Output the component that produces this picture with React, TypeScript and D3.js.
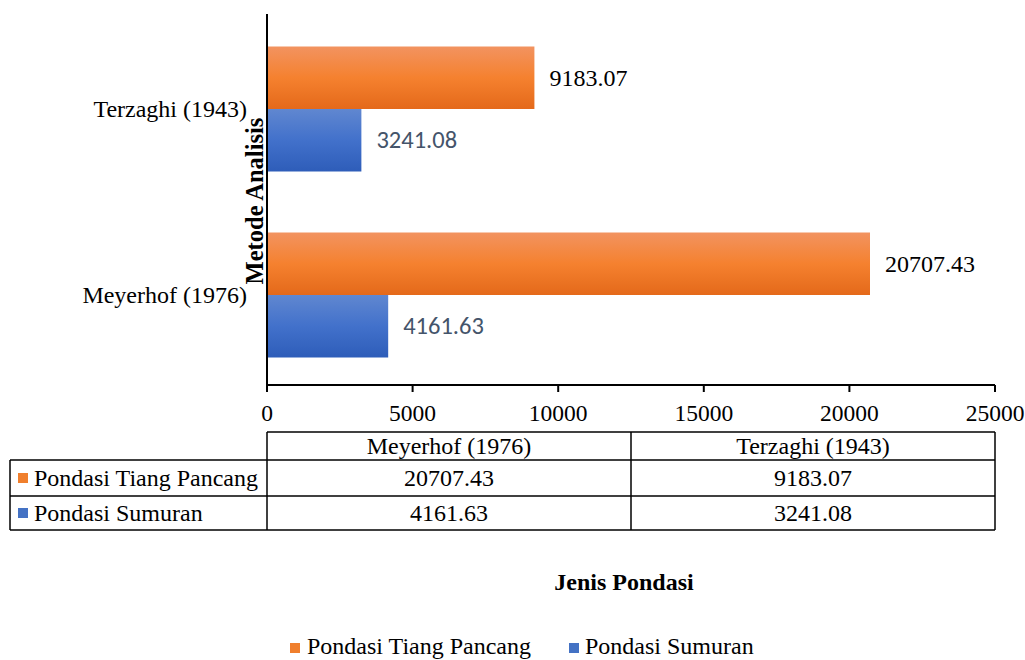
import React from "react";
import * as d3 from "d3";

const categories = ["Terzaghi (1943)", "Meyerhof (1976)"];
const tableColumns = ["Meyerhof (1976)", "Terzaghi (1943)"];
const seriesNames = ["Pondasi Tiang Pancang", "Pondasi Sumuran"];
const tiangPancang = [9183.07, 20707.43]; // by categories order
const sumuran = [3241.08, 4161.63];
const xTicks = [0, 5000, 10000, 15000, 20000, 25000];
const tableTiang = ["20707.43", "9183.07"];
const tableSumuran = ["4161.63", "3241.08"];

const SERIF = "'Liberation Serif', 'Times New Roman', serif";
const SANS = "Carlito, 'Liberation Sans', Arial, sans-serif";

export default function App() {
  const W = 1025, H = 660;
  const x = d3.scaleLinear().domain([0, 25000]).range([267, 995]);
  const y = d3.scaleBand<string>().domain(categories).range([16, 388]);
  const sub = d3
    .scaleBand<string>()
    .domain(seriesNames)
    .range([0, y.bandwidth()])
    .paddingInner(0)
    .paddingOuter(0.488);
  const values = [tiangPancang, sumuran];
  const fills = ["url(#gOrange)", "url(#gBlue)"];
  const fs = 24;

  const tLeft = 10, tC0 = 267, tC1 = 631, tC2 = 995;
  const tY0 = 432, tY1 = 460, tY2 = 496, tY3 = 530;
  const tableRows = [tableTiang, tableSumuran];
  const rowTops = [tY1, tY2];
  const rowBots = [tY2, tY3];
  const keyColors = ["#F07F2D", "#4472C4"];
  const colCenters = [(tC0 + tC1) / 2, (tC1 + tC2) / 2];

  return (
    <svg width={W} height={H} style={{ position: "absolute", left: 0, top: 0, background: "#fff" }}>
      <defs>
        <linearGradient id="gOrange" x1="0" y1="0" x2="0" y2="1">
          <stop offset="0" stopColor="#F29360" />
          <stop offset="0.5" stopColor="#F5812F" />
          <stop offset="1" stopColor="#E4691A" />
        </linearGradient>
        <linearGradient id="gBlue" x1="0" y1="0" x2="0" y2="1">
          <stop offset="0" stopColor="#6087D0" />
          <stop offset="0.5" stopColor="#4271CB" />
          <stop offset="1" stopColor="#2E5DB9" />
        </linearGradient>
      </defs>
      <rect width={W} height={H} fill="#fff" />

      {/* bars */}
      {categories.map((c, ci) =>
        seriesNames.map((s, si) => {
          const v = values[si][ci];
          const by = (y(c) ?? 0) + (sub(s) ?? 0);
          return (
            <g key={c + s}>
              <rect x={x(0)} y={by} width={x(v) - x(0)} height={sub.bandwidth()} fill={fills[si]} />
              <text
                x={x(v) + 15}
                y={by + sub.bandwidth() / 2}
                dominantBaseline="central"
                fontFamily={si === 0 ? SERIF : SANS}
                fontSize={si === 0 ? fs : 24.5}
                fill={si === 0 ? "#000" : "#44546A"}
              >
                {v.toFixed(2)}
              </text>
            </g>
          );
        })
      )}

      {/* axes */}
      <line x1={267} x2={267} y1={14} y2={386} stroke="#000" strokeWidth={2} />
      <line x1={266} x2={995} y1={385} y2={385} stroke="#000" strokeWidth={2} />
      {xTicks.map((t) => (
        <g key={t}>
          <line x1={x(t)} x2={x(t)} y1={385} y2={392} stroke="#000" strokeWidth={2} />
          <text x={x(t)} y={413} textAnchor="middle" dominantBaseline="central" fontFamily={SERIF} fontSize={23.5}>
            {t}
          </text>
        </g>
      ))}
      {categories.map((c) => (
        <text
          key={c}
          x={247}
          y={(y(c) ?? 0) + y.bandwidth() / 2}
          textAnchor="end"
          dominantBaseline="central"
          fontFamily={SERIF}
          fontSize={fs}
        >
          {c}
        </text>
      ))}
      <text
        transform={`translate(254,201) rotate(-90)`}
        textAnchor="middle"
        dominantBaseline="central"
        fontFamily={SERIF}
        fontWeight="bold"
        fontSize={24.5}
      >
        Metode Analisis
      </text>

      {/* data table */}
      <g stroke="#000" strokeWidth={1.5}>
        <line x1={tC0} x2={tC2} y1={tY0} y2={tY0} />
        <line x1={tLeft} x2={tC2} y1={tY1} y2={tY1} />
        <line x1={tLeft} x2={tC2} y1={tY2} y2={tY2} />
        <line x1={tLeft} x2={tC2} y1={tY3} y2={tY3} />
        <line x1={tLeft} x2={tLeft} y1={tY1} y2={tY3} />
        <line x1={tC0} x2={tC0} y1={tY0} y2={tY3} />
        <line x1={tC1} x2={tC1} y1={tY0} y2={tY3} />
        <line x1={tC2} x2={tC2} y1={tY0} y2={tY3} />
      </g>
      {tableColumns.map((c, i) => (
        <text key={c} x={colCenters[i]} y={(tY0 + tY1) / 2} textAnchor="middle" dominantBaseline="central" fontFamily={SERIF} fontSize={fs}>
          {c}
        </text>
      ))}
      {seriesNames.map((s, si) => {
        const cy = (rowTops[si] + rowBots[si]) / 2;
        return (
          <g key={s}>
            <rect x={18} y={cy - 5} width={10} height={10} fill={keyColors[si]} />
            <text x={34} y={cy} dominantBaseline="central" fontFamily={SERIF} fontSize={fs}>
              {s}
            </text>
            {tableRows[si].map((v, ci) => (
              <text key={ci} x={colCenters[ci]} y={cy} textAnchor="middle" dominantBaseline="central" fontFamily={SERIF} fontSize={fs}>
                {v}
              </text>
            ))}
          </g>
        );
      })}

      <text x={624} y={582} textAnchor="middle" dominantBaseline="central" fontFamily={SERIF} fontWeight="bold" fontSize={fs}>
        Jenis Pondasi
      </text>

      {/* legend */}
      <rect x={290} y={643} width={10} height={10} fill={keyColors[0]} />
      <text x={307} y={654} fontFamily={SERIF} fontSize={fs}>
        {seriesNames[0]}
      </text>
      <rect x={569} y={643} width={10} height={10} fill={keyColors[1]} />
      <text x={585} y={654} fontFamily={SERIF} fontSize={fs}>
        {seriesNames[1]}
      </text>
    </svg>
  );
}
